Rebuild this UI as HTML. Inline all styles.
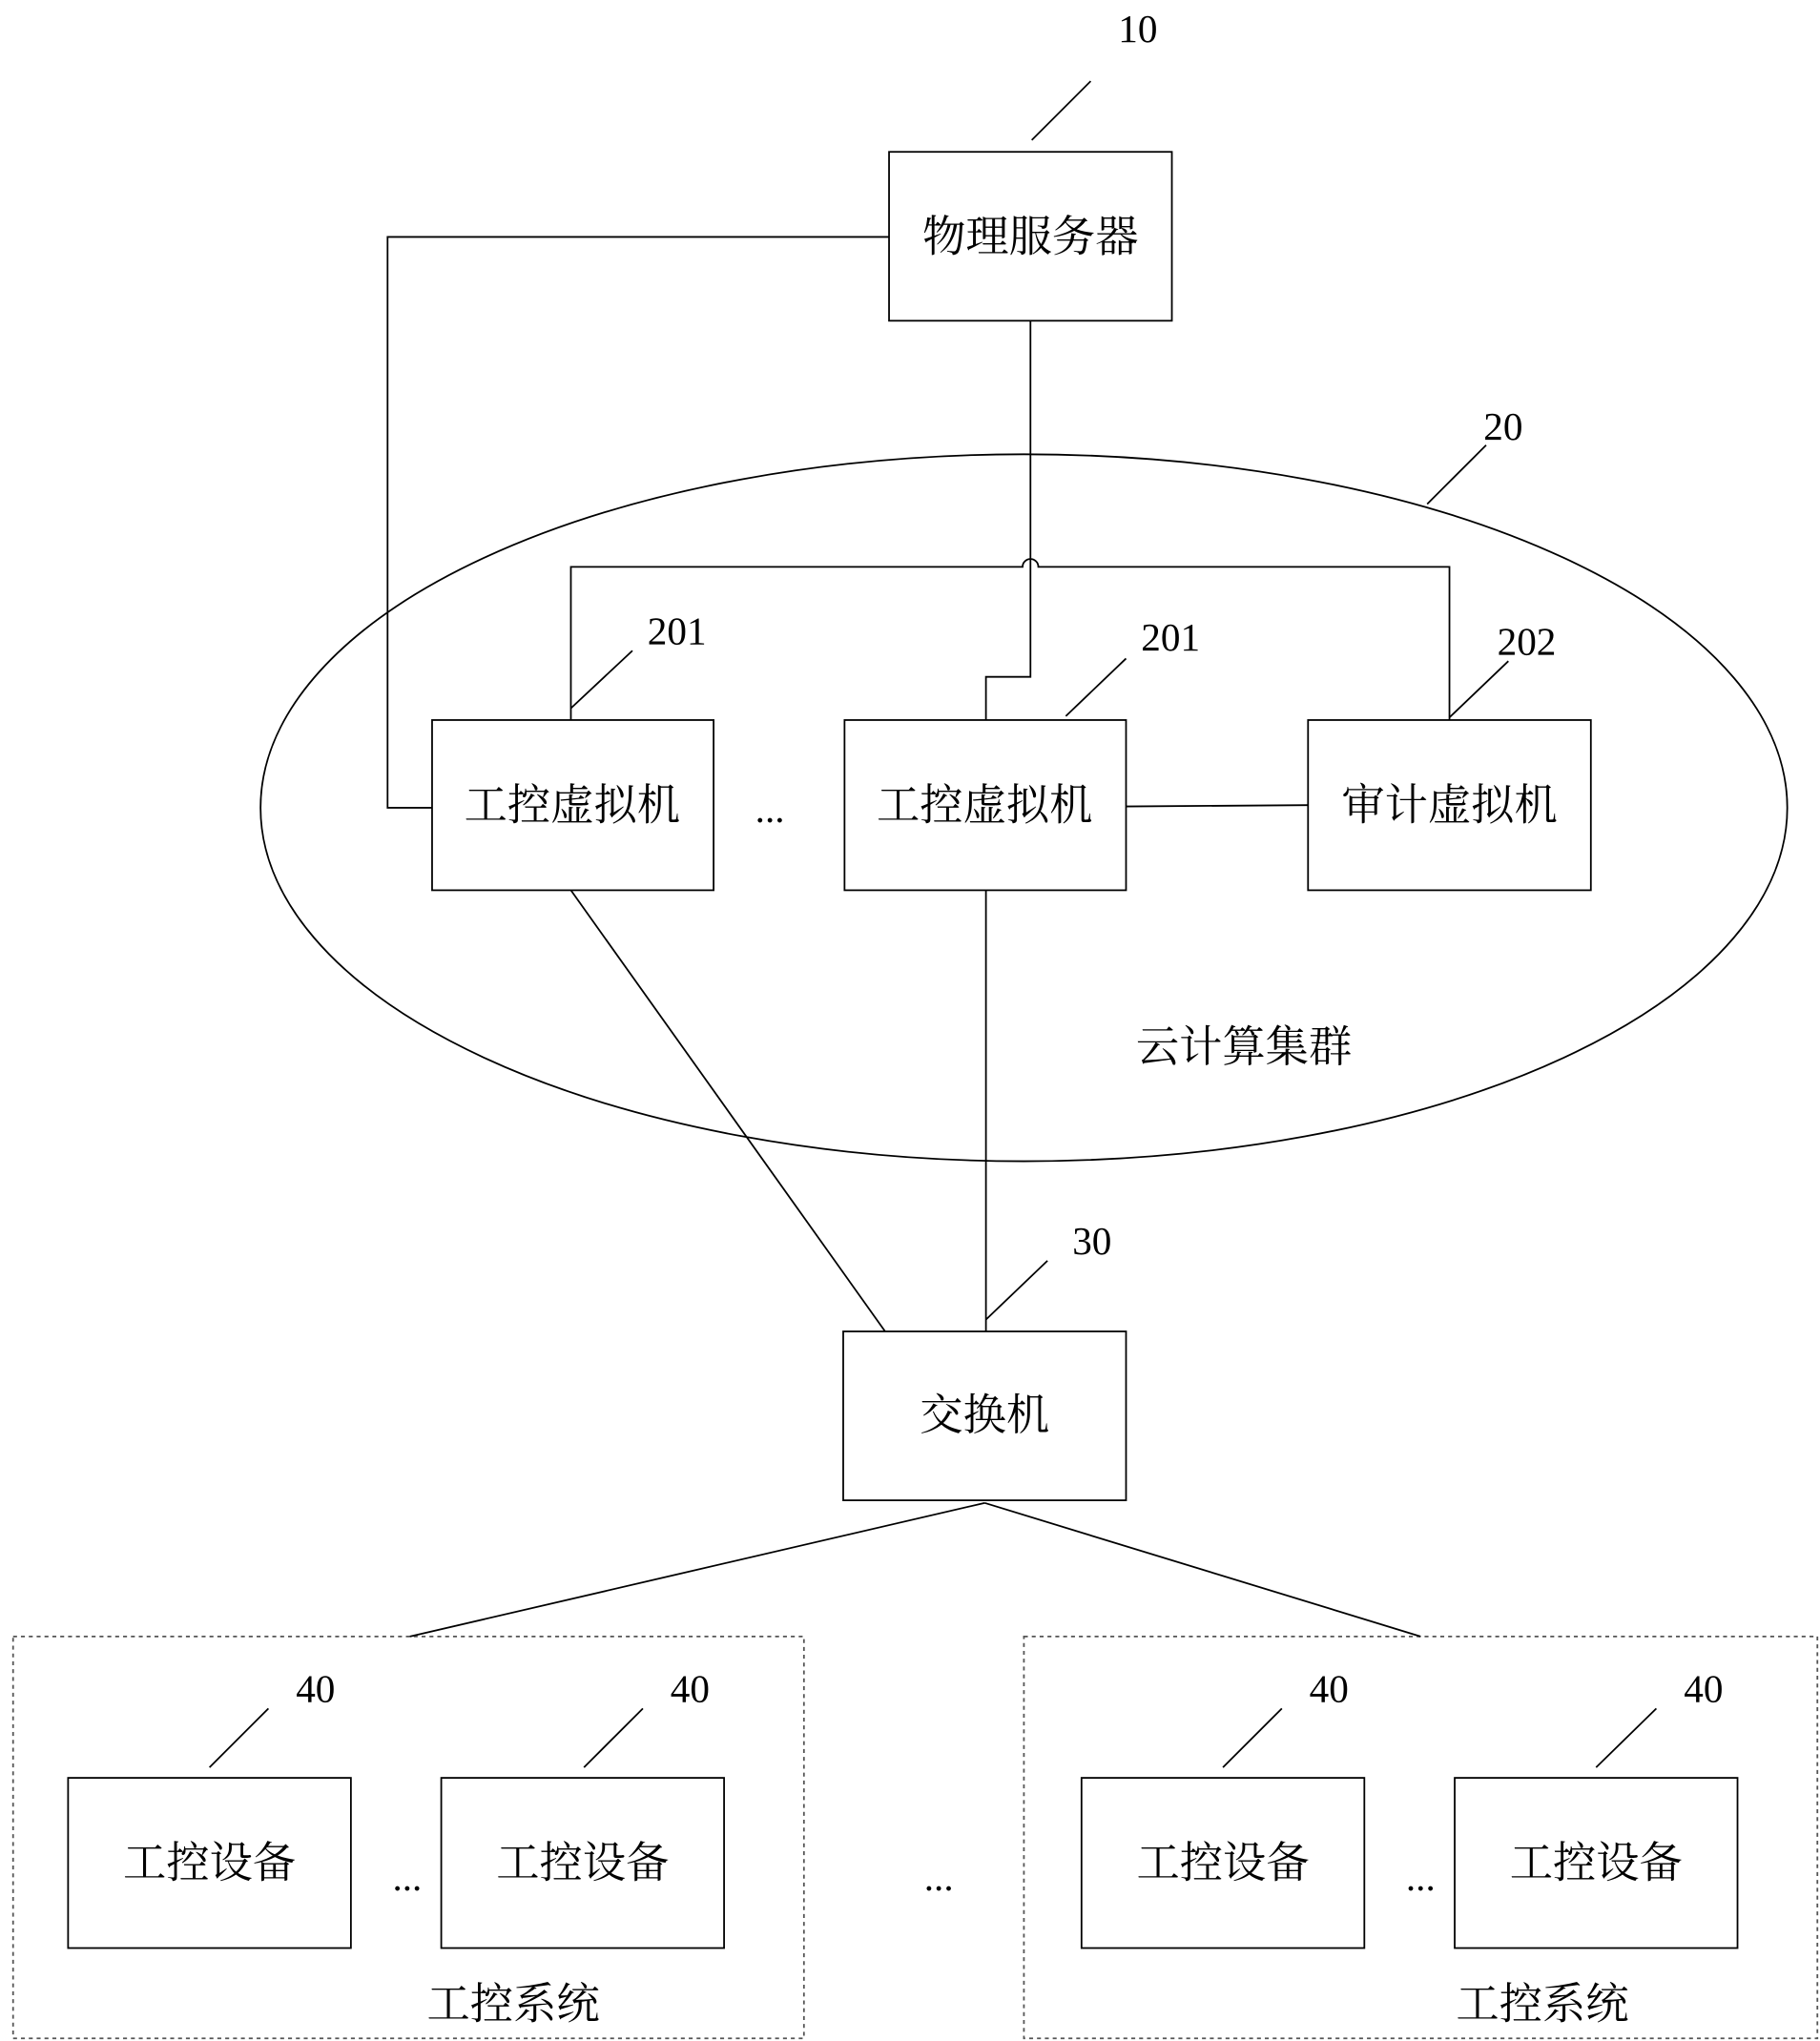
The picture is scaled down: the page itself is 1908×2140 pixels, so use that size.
<!DOCTYPE html>
<html><head><meta charset="utf-8"><style>
html,body{margin:0;padding:0;background:#fff;}
svg{display:block;}
.t{font-family:"Liberation Serif","Noto Serif CJK SC",serif;font-size:33px;fill:#000;}
.n{font-family:"Liberation Serif",serif;font-size:30px;fill:#000;}
</style></head><body>
<svg width="1908" height="2140" viewBox="0 0 1390 1559" preserveAspectRatio="none" xmlns="http://www.w3.org/2000/svg">
<g fill="none" stroke="#000" stroke-width="1.3">
<ellipse cx="782" cy="617" rx="583" ry="270"/>
<rect x="679" y="116" width="216" height="129"/>
<rect x="330" y="550" width="215" height="130"/>
<rect x="645" y="550" width="215" height="130"/>
<rect x="999" y="550" width="216" height="130"/>
<rect x="644" y="1017" width="216" height="129"/>
<rect x="52" y="1358" width="216" height="130"/>
<rect x="337" y="1358" width="216" height="130"/>
<rect x="826" y="1358" width="216" height="130"/>
<rect x="1111" y="1358" width="216" height="130"/>
<rect x="10" y="1250" width="604" height="307" stroke-dasharray="3,3" stroke="#555"/>
<rect x="782" y="1250" width="606" height="307" stroke-dasharray="3,3" stroke="#555"/>
<polyline points="679,181 296,181 296,617 330,617"/>
<path d="M787,245 V517 H753 V550"/>
<path d="M436,550 V433 H781 A6,6 0 0 1 793,433 H1107 V550"/>
<line x1="860" y1="616" x2="999" y2="615"/>
<line x1="436" y1="680" x2="676" y2="1017"/>
<line x1="753" y1="680" x2="753" y2="1017"/>
<line x1="752" y1="1148" x2="313" y2="1250"/>
<line x1="752" y1="1148" x2="1085" y2="1250"/>
<line x1="788" y1="107" x2="833" y2="62"/>
<line x1="1090" y1="385" x2="1135" y2="340"/>
<line x1="436" y1="541" x2="483" y2="497"/>
<line x1="814" y1="547" x2="860" y2="503"/>
<line x1="1107" y1="548" x2="1152" y2="505"/>
<line x1="753" y1="1008" x2="800" y2="963"/>
<line x1="160" y1="1350" x2="205" y2="1305"/>
<line x1="446" y1="1350" x2="491" y2="1305"/>
<line x1="934" y1="1350" x2="979" y2="1305"/>
<line x1="1219" y1="1350" x2="1265" y2="1305"/>
</g>
<g text-anchor="middle">
<text class="n" x="869" y="32">10</text>
<text class="n" x="1148" y="336">20</text>
<text class="n" x="517" y="492">201</text>
<text class="n" x="894" y="497">201</text>
<text class="n" x="1166" y="500">202</text>
<text class="n" x="834" y="958">30</text>
<text class="n" x="241" y="1300">40</text>
<text class="n" x="527" y="1300">40</text>
<text class="n" x="1015" y="1300">40</text>
<text class="n" x="1301" y="1300">40</text>
<text class="t" x="787" y="192">物理服务器</text>
<text class="t" x="437" y="626">工控虚拟机</text>
<text class="t" x="752" y="626">工控虚拟机</text>
<text class="t" x="1107" y="626">审计虚拟机</text>
<text class="t" x="950" y="811">云计算集群</text>
<text class="t" x="752" y="1092">交换机</text>
<text class="t" x="160" y="1434">工控设备</text>
<text class="t" x="445" y="1434">工控设备</text>
<text class="t" x="934" y="1434">工控设备</text>
<text class="t" x="1219" y="1434">工控设备</text>
<text class="t" x="392" y="1542">工控系统</text>
<text class="t" x="1178" y="1542">工控系统</text>
<text class="n" x="588" y="628">...</text>
<text class="n" x="311" y="1444">...</text>
<text class="n" x="717" y="1444">...</text>
<text class="n" x="1085" y="1444">...</text>
</g>
</svg>
</body></html>
